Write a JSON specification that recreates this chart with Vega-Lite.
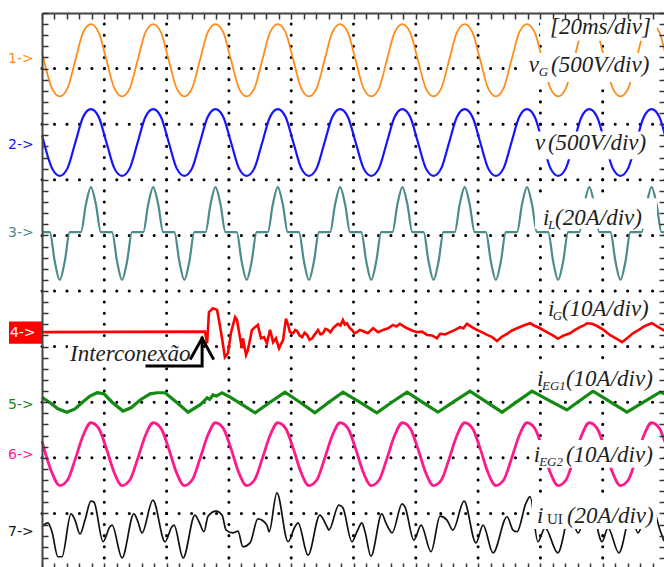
{
"$schema":"https://vega.github.io/schema/vega-lite/v6.json",
"width":623,"height":556,"autosize":"none",
"padding":{"left":42,"top":13,"right":0,"bottom":0},
"background":"white",
"config":{"view":{"stroke":null}},
"resolve":{"axis":{"x":"independent","y":"independent"}},
"datasets":{
"ax":[{"t":0,"v":0}],
"gx":[{"t":20},{"t":40},{"t":60},{"t":80},{"t":100},{"t":120},{"t":140},{"t":160},{"t":180}],
"gy":[{"v":1},{"v":2},{"v":3},{"v":4},{"v":5},{"v":6},{"v":7},{"v":8},{"v":9}],
"sines":[
{"t":0,"o":9.29,"b":7.8,"p":2.3},{"t":3.2,"o":8.65,"b":7.21,"p":1.73},
{"t":5.7,"o":8.5,"b":7.07,"p":1.5},{"t":8.2,"o":8.65,"b":7.21,"p":1.6},{"t":10.7,"o":9.15,"b":7.67,"p":1.98},{"t":13.2,"o":9.65,"b":8.13,"p":2.4},{"t":15.7,"o":9.8,"b":8.27,"p":2.63},{"t":18.2,"o":9.65,"b":8.13,"p":2.53},{"t":20.7,"o":9.15,"b":7.67,"p":2.16},{"t":23.2,"o":8.65,"b":7.21,"p":1.73},
{"t":25.7,"o":8.5,"b":7.07,"p":1.5},{"t":28.2,"o":8.65,"b":7.21,"p":1.6},{"t":30.7,"o":9.15,"b":7.67,"p":1.98},{"t":33.2,"o":9.65,"b":8.13,"p":2.4},{"t":35.7,"o":9.8,"b":8.27,"p":2.63},{"t":38.2,"o":9.65,"b":8.13,"p":2.53},{"t":40.7,"o":9.15,"b":7.67,"p":2.16},{"t":43.2,"o":8.65,"b":7.21,"p":1.73},
{"t":45.7,"o":8.5,"b":7.07,"p":1.5},{"t":48.2,"o":8.65,"b":7.21,"p":1.6},{"t":50.7,"o":9.15,"b":7.67,"p":1.98},{"t":53.2,"o":9.65,"b":8.13,"p":2.4},{"t":55.7,"o":9.8,"b":8.27,"p":2.63},{"t":58.2,"o":9.65,"b":8.13,"p":2.53},{"t":60.7,"o":9.15,"b":7.67,"p":2.16},{"t":63.2,"o":8.65,"b":7.21,"p":1.73},
{"t":65.7,"o":8.5,"b":7.07,"p":1.5},{"t":68.2,"o":8.65,"b":7.21,"p":1.6},{"t":70.7,"o":9.15,"b":7.67,"p":1.98},{"t":73.2,"o":9.65,"b":8.13,"p":2.4},{"t":75.7,"o":9.8,"b":8.27,"p":2.63},{"t":78.2,"o":9.65,"b":8.13,"p":2.53},{"t":80.7,"o":9.15,"b":7.67,"p":2.16},{"t":83.2,"o":8.65,"b":7.21,"p":1.73},
{"t":85.7,"o":8.5,"b":7.07,"p":1.5},{"t":88.2,"o":8.65,"b":7.21,"p":1.6},{"t":90.7,"o":9.15,"b":7.67,"p":1.98},{"t":93.2,"o":9.65,"b":8.13,"p":2.4},{"t":95.7,"o":9.8,"b":8.27,"p":2.63},{"t":98.2,"o":9.65,"b":8.13,"p":2.53},{"t":100.7,"o":9.15,"b":7.67,"p":2.16},{"t":103.2,"o":8.65,"b":7.21,"p":1.73},
{"t":105.7,"o":8.5,"b":7.07,"p":1.5},{"t":108.2,"o":8.65,"b":7.21,"p":1.6},{"t":110.7,"o":9.15,"b":7.67,"p":1.98},{"t":113.2,"o":9.65,"b":8.13,"p":2.4},{"t":115.7,"o":9.8,"b":8.27,"p":2.63},{"t":118.2,"o":9.65,"b":8.13,"p":2.53},{"t":120.7,"o":9.15,"b":7.67,"p":2.16},{"t":123.2,"o":8.65,"b":7.21,"p":1.73},
{"t":125.7,"o":8.5,"b":7.07,"p":1.5},{"t":128.2,"o":8.65,"b":7.21,"p":1.6},{"t":130.7,"o":9.15,"b":7.67,"p":1.98},{"t":133.2,"o":9.65,"b":8.13,"p":2.4},{"t":135.7,"o":9.8,"b":8.27,"p":2.63},{"t":138.2,"o":9.65,"b":8.13,"p":2.53},{"t":140.7,"o":9.15,"b":7.67,"p":2.16},{"t":143.2,"o":8.65,"b":7.21,"p":1.73},
{"t":145.7,"o":8.5,"b":7.07,"p":1.5},{"t":148.2,"o":8.65,"b":7.21,"p":1.6},{"t":150.7,"o":9.15,"b":7.67,"p":1.98},{"t":153.2,"o":9.65,"b":8.13,"p":2.4},{"t":155.7,"o":9.8,"b":8.27,"p":2.63},{"t":158.2,"o":9.65,"b":8.13,"p":2.53},{"t":160.7,"o":9.15,"b":7.67,"p":2.16},{"t":163.2,"o":8.65,"b":7.21,"p":1.73},
{"t":165.7,"o":8.5,"b":7.07,"p":1.5},{"t":168.2,"o":8.65,"b":7.21,"p":1.6},{"t":170.7,"o":9.15,"b":7.67,"p":1.98},{"t":173.2,"o":9.65,"b":8.13,"p":2.4},{"t":175.7,"o":9.8,"b":8.27,"p":2.63},{"t":178.2,"o":9.65,"b":8.13,"p":2.53},{"t":180.7,"o":9.15,"b":7.67,"p":2.16},{"t":183.2,"o":8.65,"b":7.21,"p":1.73},
{"t":185.7,"o":8.5,"b":7.07,"p":1.5},{"t":188.2,"o":8.65,"b":7.21,"p":1.6},{"t":190.7,"o":9.15,"b":7.67,"p":1.98},{"t":193.2,"o":9.65,"b":8.13,"p":2.4},{"t":195.7,"o":9.8,"b":8.27,"p":2.63},{"t":198.2,"o":9.65,"b":8.13,"p":2.53},
{"t":200,"o":9.29,"b":7.8,"p":2.28}],
"teal":[{"t":0,"v":6.06},
{"t":2.5,"v":6.06},{"t":4.1,"v":5.53},{"t":5.7,"v":5.2},{"t":7.3,"v":5.53},{"t":8.9,"v":6.06},{"t":12.5,"v":6.06},{"t":14.1,"v":6.56},{"t":15.7,"v":6.87},{"t":17.3,"v":6.56},{"t":18.9,"v":6.06},
{"t":22.5,"v":6.06},{"t":24.1,"v":5.53},{"t":25.7,"v":5.2},{"t":27.3,"v":5.53},{"t":28.9,"v":6.06},{"t":32.5,"v":6.06},{"t":34.1,"v":6.56},{"t":35.7,"v":6.87},{"t":37.3,"v":6.56},{"t":38.9,"v":6.06},
{"t":42.5,"v":6.06},{"t":44.1,"v":5.53},{"t":45.7,"v":5.2},{"t":47.3,"v":5.53},{"t":48.9,"v":6.06},{"t":52.5,"v":6.06},{"t":54.1,"v":6.56},{"t":55.7,"v":6.87},{"t":57.3,"v":6.56},{"t":58.9,"v":6.06},
{"t":62.5,"v":6.06},{"t":64.1,"v":5.53},{"t":65.7,"v":5.2},{"t":67.3,"v":5.53},{"t":68.9,"v":6.06},{"t":72.5,"v":6.06},{"t":74.1,"v":6.56},{"t":75.7,"v":6.87},{"t":77.3,"v":6.56},{"t":78.9,"v":6.06},
{"t":82.5,"v":6.06},{"t":84.1,"v":5.53},{"t":85.7,"v":5.2},{"t":87.3,"v":5.53},{"t":88.9,"v":6.06},{"t":92.5,"v":6.06},{"t":94.1,"v":6.56},{"t":95.7,"v":6.87},{"t":97.3,"v":6.56},{"t":98.9,"v":6.06},
{"t":102.5,"v":6.06},{"t":104.1,"v":5.53},{"t":105.7,"v":5.2},{"t":107.3,"v":5.53},{"t":108.9,"v":6.06},{"t":112.5,"v":6.06},{"t":114.1,"v":6.56},{"t":115.7,"v":6.87},{"t":117.3,"v":6.56},{"t":118.9,"v":6.06},
{"t":122.5,"v":6.06},{"t":124.1,"v":5.53},{"t":125.7,"v":5.2},{"t":127.3,"v":5.53},{"t":128.9,"v":6.06},{"t":132.5,"v":6.06},{"t":134.1,"v":6.56},{"t":135.7,"v":6.87},{"t":137.3,"v":6.56},{"t":138.9,"v":6.06},
{"t":142.5,"v":6.06},{"t":144.1,"v":5.53},{"t":145.7,"v":5.2},{"t":147.3,"v":5.53},{"t":148.9,"v":6.06},{"t":152.5,"v":6.06},{"t":154.1,"v":6.56},{"t":155.7,"v":6.87},{"t":157.3,"v":6.56},{"t":158.9,"v":6.06},
{"t":162.5,"v":6.06},{"t":164.1,"v":5.53},{"t":165.7,"v":5.2},{"t":167.3,"v":5.53},{"t":168.9,"v":6.06},{"t":172.5,"v":6.06},{"t":174.1,"v":6.56},{"t":175.7,"v":6.87},{"t":177.3,"v":6.56},{"t":178.9,"v":6.06},
{"t":182.5,"v":6.06},{"t":184.1,"v":5.53},{"t":185.7,"v":5.2},{"t":187.3,"v":5.53},{"t":188.9,"v":6.06},{"t":192.5,"v":6.06},{"t":194.1,"v":6.56},{"t":195.7,"v":6.87},{"t":197.3,"v":6.56},{"t":198.9,"v":6.06},
{"t":200,"v":6.06}],
"red":[{"t":0,"v":4.26},{"t":52.3,"v":4.27},{"t":53.0,"v":4.06},{"t":53.6,"v":4.62},{"t":54.9,"v":4.69},{"t":56.2,"v":4.66},{"t":56.8,"v":4.48},{"t":57.8,"v":4.15},{"t":58.7,"v":3.81},{"t":59.7,"v":3.88},{"t":60.7,"v":4.26},{"t":62.0,"v":4.53},{"t":62.6,"v":4.48},{"t":63.6,"v":4.15},{"t":64.2,"v":3.97},{"t":64.5,"v":4.15},{"t":65.5,"v":3.85},{"t":66.1,"v":3.94},{"t":67.4,"v":4.3},{"t":68.4,"v":4.35},{"t":69.3,"v":4.39},{"t":70.3,"v":4.15},{"t":71.3,"v":4.17},{"t":72.2,"v":4.06},{"t":73.2,"v":4.3},{"t":74.2,"v":4.08},{"t":75.1,"v":4.15},{"t":76.1,"v":3.97},{"t":77.4,"v":4.12},{"t":78.3,"v":4.5},{"t":79.0,"v":4.39},{"t":79.6,"v":4.26},{"t":80.6,"v":4.24},{"t":81.3,"v":4.3},{"t":81.9,"v":4.28},{"t":82.7,"v":4.2},{"t":83.5,"v":4.17},{"t":84.3,"v":4.25},{"t":85.1,"v":4.21},{"t":85.9,"v":4.12},{"t":86.7,"v":4.15},{"t":87.6,"v":4.22},{"t":88.6,"v":4.3},{"t":89.4,"v":4.22},{"t":90.2,"v":4.24},{"t":91.0,"v":4.32},{"t":91.8,"v":4.3},{"t":92.6,"v":4.26},{"t":93.4,"v":4.33},{"t":94.2,"v":4.37},{"t":95.0,"v":4.41},{"t":95.8,"v":4.38},{"t":96.6,"v":4.48},{"t":97.2,"v":4.4},{"t":97.9,"v":4.42},{"t":98.7,"v":4.34},{"t":99.5,"v":4.3},{"t":100.3,"v":4.24},{"t":101.1,"v":4.26},{"t":102.0,"v":4.3},{"t":103.0,"v":4.28},{"t":104.6,"v":4.24},{"t":106.3,"v":4.33},{"t":107.9,"v":4.26},{"t":109.5,"v":4.3},{"t":111.1,"v":4.33},{"t":112.7,"v":4.39},{"t":113.8,"v":4.36},{"t":114.9,"v":4.41},{"t":116.0,"v":4.37},{"t":117.2,"v":4.33},{"t":118.8,"v":4.29},{"t":120.4,"v":4.26},{"t":122.0,"v":4.27},{"t":123.6,"v":4.21},{"t":125.2,"v":4.2},{"t":126.8,"v":4.15},{"t":127.8,"v":4.23},{"t":129.4,"v":4.22},{"t":131.0,"v":4.26},{"t":132.6,"v":4.3},{"t":134.2,"v":4.35},{"t":135.3,"v":4.33},{"t":136.4,"v":4.41},{"t":138.0,"v":4.35},{"t":139.6,"v":4.3},{"t":141.2,"v":4.26},{"t":142.9,"v":4.21},{"t":144.5,"v":4.17},{"t":146.1,"v":4.1},{"t":147.7,"v":4.18},{"t":149.3,"v":4.23},{"t":150.9,"v":4.29},{"t":152.5,"v":4.33},{"t":154.6,"v":4.38},{"t":156.7,"v":4.42},{"t":158.3,"v":4.37},{"t":159.9,"v":4.33},{"t":161.5,"v":4.28},{"t":163.1,"v":4.23},{"t":164.4,"v":4.19},{"t":165.6,"v":4.14},{"t":167.5,"v":4.2},{"t":169.5,"v":4.24},{"t":171.1,"v":4.3},{"t":172.7,"v":4.35},{"t":173.9,"v":4.38},{"t":175.0,"v":4.42},{"t":176.6,"v":4.41},{"t":178.2,"v":4.37},{"t":180.3,"v":4.3},{"t":182.3,"v":4.21},{"t":184.2,"v":4.15},{"t":186.2,"v":4.08},{"t":188.0,"v":4.16},{"t":189.7,"v":4.24},{"t":191.3,"v":4.29},{"t":192.9,"v":4.35},{"t":194.3,"v":4.39},{"t":195.8,"v":4.42},{"t":197.6,"v":4.36},{"t":199.4,"v":4.3},{"t":200,"v":4.28}],
"green":[{"t":0,"v":3.09},{"t":2.6,"v":2.99},{"t":5.1,"v":2.88},{"t":8.0,"v":2.82},{"t":10.6,"v":2.88},{"t":12.8,"v":2.99},{"t":15.4,"v":3.11},{"t":17.7,"v":3.17},{"t":19.9,"v":3.15},{"t":22.5,"v":3.0},{"t":26.0,"v":2.84},{"t":28.6,"v":2.9},{"t":31.5,"v":3.04},{"t":34.7,"v":3.15},{"t":37.0,"v":3.17},{"t":39.5,"v":3.17},{"t":43.2,"v":3.0},{"t":46.9,"v":2.82},{"t":50.7,"v":2.95},{"t":52.0,"v":3.02},{"t":53.0,"v":3.08},{"t":53.8,"v":3.05},{"t":54.9,"v":3.13},{"t":56.0,"v":3.11},{"t":57.8,"v":3.17},{"t":60.4,"v":3.09},{"t":64.4,"v":2.95},{"t":68.4,"v":2.81},{"t":73.2,"v":3.0},{"t":78.0,"v":3.18},{"t":82.8,"v":3.0},{"t":87.6,"v":2.81},{"t":92.1,"v":3.0},{"t":96.6,"v":3.18},{"t":102.0,"v":3.0},{"t":107.5,"v":2.81},{"t":112.3,"v":3.0},{"t":117.2,"v":3.18},{"t":122.1,"v":3.0},{"t":127.1,"v":2.82},{"t":132.2,"v":3.01},{"t":137.4,"v":3.2},{"t":142.5,"v":3.01},{"t":147.7,"v":2.82},{"t":152.5,"v":3.01},{"t":157.3,"v":3.2},{"t":162.9,"v":3.03},{"t":168.5,"v":2.86},{"t":172.7,"v":3.03},{"t":176.9,"v":3.2},{"t":182.3,"v":3.01},{"t":187.8,"v":2.82},{"t":193.1,"v":3.0},{"t":198.4,"v":3.18},{"t":200,"v":3.15}],
"black":[{"t":0,"v":0.76},{"t":1.9,"v":0.83},{"t":3.2,"v":0.67},{"t":5.1,"v":0.22},{"t":6.4,"v":0.22},{"t":9.3,"v":0.99},{"t":10.6,"v":0.88},{"t":12.2,"v":0.63},{"t":13.8,"v":0.88},{"t":15.7,"v":1.22},{"t":16.7,"v":1.2},{"t":19.6,"v":0.49},{"t":21.8,"v":0.76},{"t":22.5,"v":0.79},{"t":25.7,"v":0.2},{"t":29.5,"v":0.99},{"t":30.8,"v":0.85},{"t":32.1,"v":0.65},{"t":35.6,"v":1.24},{"t":39.5,"v":0.49},{"t":41.7,"v":0.76},{"t":42.4,"v":0.79},{"t":45.3,"v":0.2},{"t":49.1,"v":0.97},{"t":50.4,"v":0.85},{"t":52.0,"v":0.67},{"t":53.3,"v":0.95},{"t":55.9,"v":1.04},{"t":57.8,"v":0.97},{"t":59.1,"v":0.7},{"t":61.3,"v":0.65},{"t":62.9,"v":0.68},{"t":64.5,"v":0.4},{"t":66.8,"v":0.47},{"t":69.3,"v":0.9},{"t":72.2,"v":0.79},{"t":72.9,"v":0.67},{"t":75.4,"v":1.37},{"t":79.0,"v":0.49},{"t":81.2,"v":0.76},{"t":82.2,"v":0.83},{"t":85.4,"v":0.25},{"t":89.2,"v":0.97},{"t":91.5,"v":0.76},{"t":92.1,"v":0.7},{"t":95.3,"v":1.15},{"t":96.6,"v":1.1},{"t":99.5,"v":0.49},{"t":101.1,"v":0.67},{"t":102.7,"v":0.83},{"t":103.7,"v":0.67},{"t":105.6,"v":0.23},{"t":109.1,"v":0.99},{"t":110.4,"v":0.83},{"t":112.4,"v":0.65},{"t":115.6,"v":1.17},{"t":116.5,"v":1.12},{"t":119.4,"v":0.52},{"t":121.7,"v":0.79},{"t":124.9,"v":0.31},{"t":127.8,"v":0.95},{"t":130.0,"v":0.88},{"t":131.9,"v":0.7},{"t":135.5,"v":1.22},{"t":139.3,"v":0.47},{"t":141.6,"v":0.79},{"t":144.8,"v":0.29},{"t":149.3,"v":0.94},{"t":151.2,"v":0.7},{"t":152.5,"v":0.67},{"t":155.4,"v":1.19},{"t":156.7,"v":1.3},{"t":159.2,"v":0.49},{"t":161.5,"v":0.74},{"t":165.6,"v":0.29},{"t":169.5,"v":0.99},{"t":172.1,"v":0.65},{"t":175.9,"v":1.24},{"t":179.8,"v":0.49},{"t":181.7,"v":0.74},{"t":185.2,"v":0.29},{"t":189.1,"v":0.99},{"t":191.3,"v":0.65},{"t":195.2,"v":1.24},{"t":198.4,"v":0.7},{"t":199.7,"v":0.5}],
"boxes":[{"t1":159.9,"t2":197.4,"v1":9.5,"v2":10.0},{"t1":155.1,"t2":197.4,"v1":8.76,"v2":9.28},{"t1":157.3,"t2":197.4,"v1":7.37,"v2":7.87},{"t1":158.3,"t2":197.4,"v1":6.12,"v2":6.67},{"t1":161.5,"t2":197.4,"v1":4.5,"v2":4.95},{"t1":157.6,"t2":197.4,"v1":3.22,"v2":3.69},{"t1":156.6,"t2":197.4,"v1":1.82,"v2":2.32},{"t1":157.3,"t2":197.4,"v1":0.72,"v2":1.29},{"t1":8.3,"t2":48.5,"v1":3.65,"v2":4.12}],
"redbox":[{"t1":-10.6,"t2":0,"v1":4.05,"v2":4.45}],
"ch":[{"c":"1","t":-10.9,"v":9.17,"s":"1->"},{"c":"2","t":-10.9,"v":7.63,"s":"2->"},{"c":"3","t":-10.9,"v":6.04,"s":"3->"},{"c":"4","t":-10.3,"v":4.24,"s":"4->"},{"c":"5","t":-10.9,"v":2.95,"s":"5->"},{"c":"6","t":-10.9,"v":2.05,"s":"6->"},{"c":"7","t":-10.9,"v":0.665,"s":"7->"}],
"main":[{"t":163.1,"v":9.62,"s":"[20ms/div]"},{"t":156.3,"v":8.94,"s":"v"},{"t":163.4,"v":8.94,"s":"(500V/div)"},{"t":158.3,"v":7.54,"s":"v"},{"t":162.4,"v":7.54,"s":"(500V/div)"},{"t":160.8,"v":6.19,"s":"i"},{"t":164.7,"v":6.19,"s":"(20A/div)"},{"t":162.4,"v":4.55,"s":"i"},{"t":166.9,"v":4.55,"s":"(10A/div)"},{"t":158.9,"v":3.29,"s":"i"},{"t":168.2,"v":3.29,"s":"(10A/div)"},{"t":157.9,"v":1.92,"s":"i"},{"t":168.2,"v":1.92,"s":"(10A/div)"},{"t":158.9,"v":0.83,"s":"i"},{"t":168.5,"v":0.83,"s":"(20A/div)"},{"t":9.0,"v":3.75,"s":"Interconexão"}],
"sub":[{"t":159.5,"v":8.87,"s":"G"},{"t":162.4,"v":6.12,"s":"L"},{"t":164.0,"v":4.48,"s":"G"},{"t":160.5,"v":3.22,"s":"EG1"},{"t":159.6,"v":1.85,"s":"EG2"}],
"subu":[{"t":162.1,"v":0.81,"s":"UI"}],
"arrow":[{"g":"a","o":1,"t":33.7,"v":3.65},{"g":"a","o":2,"t":51.4,"v":3.65},{"g":"a","o":3,"t":51.4,"v":4.15},{"g":"b","o":1,"t":47.8,"v":3.79},{"g":"b","o":2,"t":51.4,"v":4.15},{"g":"b","o":3,"t":54.9,"v":3.79}]
},
"layer":[
{"data":{"name":"gx"},"mark":{"type":"rule","color":"#000","strokeWidth":3,"strokeCap":"round","strokeDash":[0.1,11.02]},
 "encoding":{"x":{"field":"t","type":"quantitative","scale":{"domain":[0,200],"nice":false,"zero":false},"axis":null},"y":{"datum":0,"type":"quantitative","scale":{"domain":[0,10],"nice":false},"axis":null},"y2":{"datum":10}}},
{"data":{"name":"gy"},"mark":{"type":"rule","color":"#000","strokeWidth":3,"strokeCap":"round","strokeDash":[0.1,12.36]},
 "encoding":{"y":{"field":"v","type":"quantitative","axis":null},"x":{"datum":0,"type":"quantitative","axis":null},"x2":{"datum":200}}},
{"data":{"name":"sines"},"mark":{"type":"line","interpolate":"monotone","color":"#ff8c1a","strokeWidth":1.8},
 "encoding":{"x":{"field":"t","type":"quantitative","axis":null},"y":{"field":"o","type":"quantitative","axis":null}}},
{"data":{"name":"sines"},"mark":{"type":"line","interpolate":"monotone","color":"#1414ff","strokeWidth":2.2},
 "encoding":{"x":{"field":"t","type":"quantitative","axis":null},"y":{"field":"b","type":"quantitative","axis":null}}},
{"data":{"name":"teal"},"mark":{"type":"line","interpolate":"monotone","color":"#4d8c8c","strokeWidth":2.2},
 "encoding":{"x":{"field":"t","type":"quantitative","axis":null},"y":{"field":"v","type":"quantitative","axis":null}}},
{"data":{"name":"red"},"mark":{"type":"line","color":"#ff0000","strokeWidth":2.6},
 "encoding":{"x":{"field":"t","type":"quantitative","axis":null},"y":{"field":"v","type":"quantitative","axis":null}}},
{"data":{"name":"green"},"mark":{"type":"line","color":"#148a14","strokeWidth":3.2},
 "encoding":{"x":{"field":"t","type":"quantitative","axis":null},"y":{"field":"v","type":"quantitative","axis":null}}},
{"data":{"name":"sines"},"mark":{"type":"line","interpolate":"monotone","color":"#ff1a8c","strokeWidth":2.8},
 "encoding":{"x":{"field":"t","type":"quantitative","axis":null},"y":{"field":"p","type":"quantitative","axis":null}}},
{"data":{"name":"black"},"mark":{"type":"line","interpolate":"monotone","color":"#111111","strokeWidth":1.7},
 "encoding":{"x":{"field":"t","type":"quantitative","axis":null},"y":{"field":"v","type":"quantitative","axis":null}}},
{"data":{"name":"boxes"},"mark":{"type":"rect","fill":"white","stroke":null},
 "encoding":{"x":{"field":"t1","type":"quantitative","axis":null},"x2":{"field":"t2"},"y":{"field":"v1","type":"quantitative","axis":null},"y2":{"field":"v2"}}},
{"data":{"name":"redbox"},"mark":{"type":"rect","fill":"#ff0000","stroke":null},
 "encoding":{"x":{"field":"t1","type":"quantitative","axis":null},"x2":{"field":"t2"},"y":{"field":"v1","type":"quantitative","axis":null},"y2":{"field":"v2"}}},
{"data":{"name":"ch"},"mark":{"type":"text","font":"DejaVu Sans","fontSize":14,"align":"left","baseline":"middle"},
 "encoding":{"x":{"field":"t","type":"quantitative","axis":null},"y":{"field":"v","type":"quantitative","axis":null},"text":{"field":"s"},
  "color":{"field":"c","type":"nominal","legend":null,"scale":{"domain":["1","2","3","4","5","6","7"],"range":["#ff8c1a","#1414ff","#4d8c8c","#ffffff","#148a14","#ff1a8c","#111111"]}}}},
{"data":{"name":"main"},"mark":{"type":"text","font":"Liberation Serif","fontStyle":"italic","fontSize":23,"align":"left","baseline":"alphabetic","color":"#1e1e1e"},
 "encoding":{"x":{"field":"t","type":"quantitative","axis":null},"y":{"field":"v","type":"quantitative","axis":null},"text":{"field":"s"}}},
{"data":{"name":"sub"},"mark":{"type":"text","font":"Liberation Serif","fontStyle":"italic","fontSize":13,"align":"left","baseline":"alphabetic","color":"#1e1e1e"},
 "encoding":{"x":{"field":"t","type":"quantitative","axis":null},"y":{"field":"v","type":"quantitative","axis":null},"text":{"field":"s"}}},
{"data":{"name":"subu"},"mark":{"type":"text","font":"Liberation Serif","fontSize":15,"align":"left","baseline":"alphabetic","color":"#1e1e1e"},
 "encoding":{"x":{"field":"t","type":"quantitative","axis":null},"y":{"field":"v","type":"quantitative","axis":null},"text":{"field":"s"}}},
{"data":{"name":"arrow"},"mark":{"type":"line","color":"#000","strokeWidth":3,"strokeCap":"square"},
 "encoding":{"x":{"field":"t","type":"quantitative","axis":null},"y":{"field":"v","type":"quantitative","axis":null},"detail":{"field":"g"},"order":{"field":"o"}}},
{"data":{"name":"ax"},"mark":{"type":"point","opacity":0},
 "encoding":{"x":{"field":"t","type":"quantitative","axis":{"orient":"bottom","values":[0,4,8,12,16,20,24,28,32,36,40,44,48,52,56,60,64,68,72,76,80,84,88,92,96,100,104,108,112,116,120,124,128,132,136,140,144,148,152,156,160,164,168,172,176,180,184,188,192,196,200],"labels":false,"title":null,"grid":false,"tickSize":-6,"tickColor":"#333","tickWidth":1.5,"domainColor":"#444","domainWidth":2,"zindex":2}},
  "y":{"field":"v","type":"quantitative","axis":{"orient":"left","tickCount":50,"labels":false,"title":null,"grid":false,"tickSize":-6,"tickColor":"#333","tickWidth":1.5,"domainColor":"#444","domainWidth":2,"zindex":2}}}},
{"data":{"name":"ax"},"mark":{"type":"point","opacity":0},
 "encoding":{"x":{"field":"t","type":"quantitative","axis":{"orient":"top","values":[0,4,8,12,16,20,24,28,32,36,40,44,48,52,56,60,64,68,72,76,80,84,88,92,96,100,104,108,112,116,120,124,128,132,136,140,144,148,152,156,160,164,168,172,176,180,184,188,192,196,200],"labels":false,"title":null,"grid":false,"tickSize":-6,"tickColor":"#333","tickWidth":1.5,"domainColor":"#444","domainWidth":2,"zindex":2}},
  "y":{"field":"v","type":"quantitative","axis":{"orient":"right","tickCount":50,"labels":false,"title":null,"grid":false,"tickSize":-6,"tickColor":"#333","tickWidth":1.5,"domainColor":"#444","domainWidth":2,"zindex":2}}}}
]
}
